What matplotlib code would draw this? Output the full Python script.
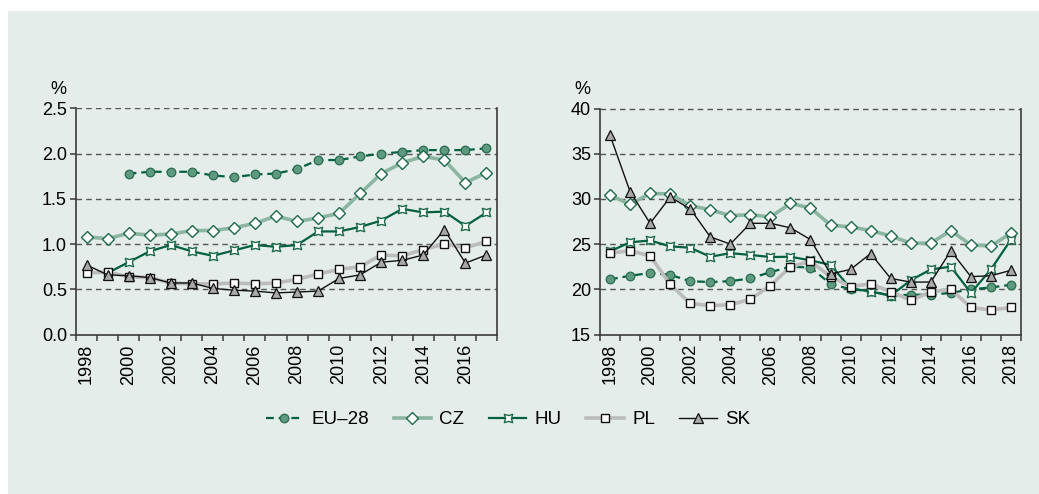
import numpy as np
import matplotlib
matplotlib.use("Agg")
import matplotlib.pyplot as plt
from matplotlib.patches import Rectangle
from matplotlib.path import Path
from matplotlib.lines import Line2D

plt.rcParams['font.family'] = ['Liberation Sans', 'DejaVu Sans']

nan = np.nan
years_left = list(range(1998, 2018))
years_right = list(range(1998, 2019))

eu_left = [nan, nan, 1.78, 1.80, 1.80, 1.80, 1.76, 1.74, 1.77, 1.78, 1.83, 1.93, 1.93, 1.97, 2.00, 2.02, 2.04, 2.04, 2.04, 2.06]
cz_left = [1.08, 1.06, 1.12, 1.10, 1.11, 1.15, 1.15, 1.18, 1.23, 1.31, 1.25, 1.29, 1.34, 1.56, 1.78, 1.90, 1.97, 1.93, 1.68, 1.79]
hu_left = [nan, 0.68, 0.80, 0.92, 0.99, 0.92, 0.87, 0.93, 0.99, 0.97, 0.99, 1.14, 1.14, 1.19, 1.26, 1.39, 1.35, 1.36, 1.20, 1.35]
pl_left = [0.68, 0.69, 0.64, 0.63, 0.57, 0.56, 0.56, 0.57, 0.56, 0.57, 0.61, 0.67, 0.72, 0.75, 0.88, 0.87, 0.94, 1.00, 0.96, 1.03]
sk_left = [0.77, 0.66, 0.65, 0.63, 0.57, 0.57, 0.51, 0.49, 0.48, 0.46, 0.47, 0.48, 0.62, 0.66, 0.80, 0.82, 0.88, 1.16, 0.79, 0.88]

eu_right = [21.1, 21.5, 21.8, 21.6, 20.9, 20.8, 20.9, 21.2, 21.9, 22.5, 22.4, 20.6, 20.0, 19.8, 19.3, 19.4, 19.4, 19.6, 20.0, 20.2, 20.5]
cz_right = [30.4, 29.4, 30.6, 30.55, 29.25, 28.8, 28.15, 28.25, 28.0, 29.5, 29.0, 27.1, 26.9, 26.5, 25.9, 25.1, 25.1, 26.5, 24.9, 24.8, 26.2]
hu_right = [24.2, 25.2, 25.4, 24.75, 24.6, 23.6, 24.0, 23.8, 23.57, 23.6, 23.2, 22.7, 20.1, 19.75, 19.3, 21.0, 22.2, 22.5, 19.6, 22.2, 25.5]
pl_right = [24.0, 24.27, 23.7, 20.54, 18.43, 18.2, 18.3, 18.9, 20.4, 22.5, 23.1, 21.4, 20.3, 20.6, 19.75, 18.8, 19.7, 20.0, 18.0, 17.7, 18.0]
sk_right = [37.05, 30.8, 27.3, 30.2, 28.9, 25.8, 25.0, 27.3, 27.3, 26.8, 25.5, 21.7, 22.2, 23.95, 21.2, 20.8, 20.8, 24.25, 21.4, 21.5, 22.1]

series_names = ['EU\u201328', 'CZ', 'HU', 'PL', 'SK']

PANEL = '#e4edea'
DARKG = '#006040'
SPINE = '#3a3a3a'

# pinched-square marker for HU
p = 0.7
hu_verts = [(-1, -1), (0, -p), (1, -1), (p, 0), (1, 1), (0, p), (-1, 1), (-p, 0), (-1, -1)]
hu_codes = [Path.MOVETO] + [Path.LINETO] * 7 + [Path.CLOSEPOLY]
hu_marker = Path(hu_verts, hu_codes)

styles = [
    dict(color=DARKG, lw=1.6, ls=(0, (3.5, 2.2)), marker='o', ms=6.2, mfc='#5e9a80', mec='#2a6b50', mew=0.9),
    dict(color='#8cb5a2', lw=2.6, ls='-', marker='D', ms=5.8, mfc='white', mec='#1d6a4a', mew=1.0),
    dict(color=DARKG, lw=1.6, ls='-', marker=hu_marker, ms=6.0, mfc='white', mec='#1d6a4a', mew=1.0),
    dict(color='#bcbcbc', lw=2.6, ls='-', marker='s', ms=6.0, mfc='white', mec='#111111', mew=1.0),
    dict(color='#111111', lw=1.0, ls='-', marker='^', ms=7.0, mfc='#a8a8a8', mec='#111111', mew=0.9),
]

fig = plt.figure(figsize=(10.39, 4.94), dpi=100)
fig.patch.set_facecolor('white')
fig.patches.append(Rectangle((8 / 1039, 0), 1, (494 - 11) / 494, transform=fig.transFigure,
                             facecolor=PANEL, edgecolor='none', zorder=-10))

W, H = 1039, 494
top_px, bot_px = 108.5, 334.5
axL = fig.add_axes([76 / W, (H - bot_px) / H, 421 / W, (bot_px - top_px) / H])
axR = fig.add_axes([600 / W, (H - bot_px) / H, 421 / W, (bot_px - top_px) / H])


def style_axis(ax, years, ylim, yticks, fmt, label_years):
    ax.set_facecolor('none')
    ax.set_xlim(years[0] - 0.5, years[-1] + 0.5)
    ax.set_ylim(*ylim)
    ax.set_yticks(yticks)
    ax.set_yticklabels([fmt.format(v) for v in yticks])
    ax.set_xticks(label_years)
    ax.set_xticklabels([str(y) for y in label_years], rotation=90)
    ax.set_xticks([y - 0.5 for y in years] + [years[-1] + 0.5], minor=True)
    ax.tick_params(axis='x', which='major', length=0, pad=7, labelsize=13)
    ax.tick_params(axis='x', which='minor', length=4, width=1.1, color=SPINE, direction='out')
    ax.tick_params(axis='y', which='major', length=4.5, width=1.1, color=SPINE, pad=2, labelsize=13)
    for s in ['left', 'bottom', 'right']:
        ax.spines[s].set_color(SPINE)
        ax.spines[s].set_linewidth(1.2)
    ax.spines['top'].set_visible(False)
    for v in yticks[1:]:
        ax.axhline(v, color='#555555', lw=1.0, ls=(0, (4, 3)), zorder=0.5)
    ax.text(-0.043, 1.045, '%', transform=ax.transAxes, ha='center', va='bottom', fontsize=13)


left_data = [eu_left, cz_left, hu_left, pl_left, sk_left]
right_data = [eu_right, cz_right, hu_right, pl_right, sk_right]

for ax, years, data in [(axL, years_left, left_data), (axR, years_right, right_data)]:
    for i, (vals, st) in enumerate(zip(data, styles)):
        ax.plot(years, vals, zorder=2 + i, clip_on=False, **st)

style_axis(axL, years_left, (0, 2.5), [0.0, 0.5, 1.0, 1.5, 2.0, 2.5], '{:.1f}', list(range(1998, 2018, 2)))
style_axis(axR, years_right, (15, 40), [15, 20, 25, 30, 35, 40], '{:d}', list(range(1998, 2019, 2)))

handles = [Line2D([], [], **st) for st in styles]
fig.legend(handles, series_names, loc='center', bbox_to_anchor=(0.489, 0.15), ncol=5,
           frameon=False, fontsize=13.5, handlelength=2.0, handletextpad=0.45,
           columnspacing=1.3, numpoints=1)

fig.savefig('out.png', dpi=100, facecolor=fig.get_facecolor())
